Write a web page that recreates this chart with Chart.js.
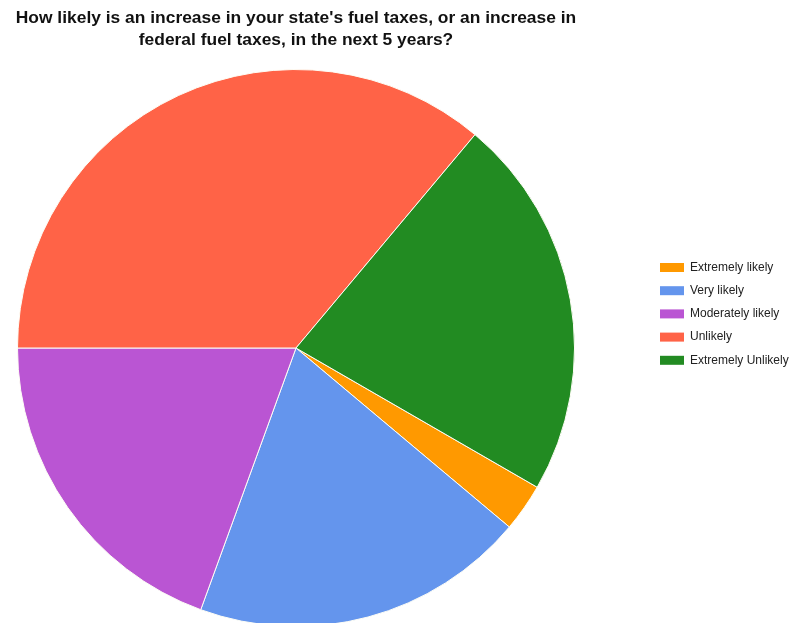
<!DOCTYPE html>
<html>
<head>
<meta charset="utf-8">
<script src="https://cdn.jsdelivr.net/npm/chart.js@4/dist/chart.umd.min.js"></script>
<style>
  html, body { margin: 0; padding: 0; background: #ffffff; overflow: hidden; }
  #wrap { position: relative; width: 795px; height: 700px; }
</style>
</head>
<body>
<div id="wrap"><canvas id="pie" width="795" height="700"></canvas></div>
<script>
const titleLines = [
  "How likely is an increase in your state's fuel taxes, or an increase in",
  "federal fuel taxes, in the next 5 years?"
];
const categories = ["Extremely likely", "Very likely", "Moderately likely", "Unlikely", "Extremely Unlikely"];
const responses = [1, 7, 7, 13, 8];
const sliceColors = ["#ff9900", "#6495ed", "#ba55d3", "#ff6347", "#228b22"];

// Title centred over the pie, legend list on the right
const annotate = {
  id: 'annotate',
  afterDraw(chart) {
    const ctx = chart.ctx;
    const area = chart.chartArea;
    const cx = (area.left + area.right) / 2;
    ctx.save();
    ctx.fillStyle = '#111111';
    ctx.font = 'bold 16.5px "Liberation Sans", Arial, sans-serif';
    ctx.textAlign = 'center';
    ctx.textBaseline = 'middle';
    titleLines.forEach((line, i) => {
      ctx.save();
      ctx.translate(cx, 18 + i * 22);
      ctx.scale(1.055, 1);
      ctx.fillText(line, 0, 0);
      ctx.restore();
    });

    ctx.font = '12px "Liberation Sans", Arial, sans-serif';
    ctx.textAlign = 'left';
    const ds = chart.data.datasets[0];
    chart.data.labels.forEach((label, i) => {
      const y = 267.5 + i * 23.2;
      ctx.fillStyle = ds.backgroundColor[i];
      ctx.fillRect(660, y - 4.5, 24, 9);
      ctx.fillStyle = '#222222';
      ctx.fillText(label, 690, y);
    });
    ctx.restore();
  }
};

new Chart(document.getElementById('pie'), {
  type: 'pie',
  data: {
    labels: categories,
    datasets: [{
      data: responses,
      backgroundColor: sliceColors,
      borderColor: '#fdfdf5',
      borderWidth: 1,
      hoverOffset: 0
    }]
  },
  options: {
    responsive: false,
    animation: false,
    rotation: 120,
    layout: { padding: { left: 17, top: 69, right: 220, bottom: 73 } },
    plugins: {
      legend: { display: false },
      title: { display: false },
      tooltip: { enabled: false }
    },
    events: []
  },
  plugins: [annotate]
});
</script>
</body>
</html>
